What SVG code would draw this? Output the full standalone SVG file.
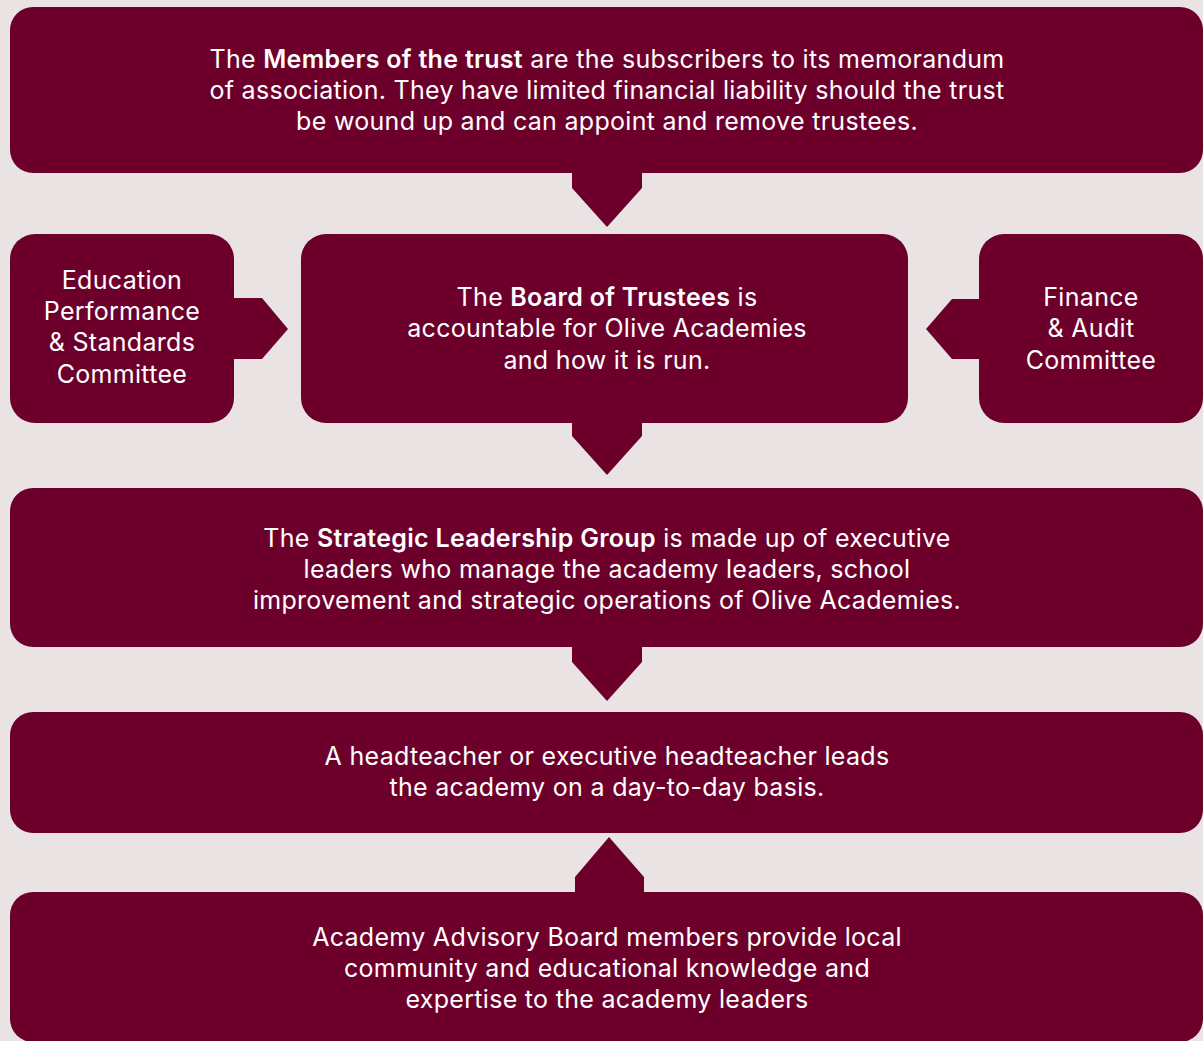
<svg xmlns="http://www.w3.org/2000/svg" width="1203" height="1041" viewBox="0 0 1203 1041">
<style>
.box{fill:#6d002b}
.arr{fill:#6d002b}
text{font-family:Inter,"Open Sans","Liberation Sans",Arial,sans-serif;font-size:25px;letter-spacing:0.3px;fill:#ffffff;text-anchor:middle}
.b{font-weight:600}
</style>
<rect x="0" y="0" width="1203" height="1041" fill="#e9e3e4"/>
<g id="connectors">
<polygon class="arr" points="572,170 642,170 642,188 607,227 572,188"/>
<polygon class="arr" points="230,298 262,298 288,329 262,359 230,359"/>
<polygon class="arr" points="983,299 952,299 926,329 952,359 983,359"/>
<polygon class="arr" points="572,420 642,420 642,436 607,475 572,436"/>
<polygon class="arr" points="572,644 642,644 642,662 607,701 572,662"/>
<polygon class="arr" points="609,837 644,877 644,896 575,896 575,877"/>
</g>
<g id="members">
<rect class="box" x="10" y="7" width="1193" height="166" rx="23"/>
<text x="607" y="68"><tspan>The </tspan><tspan class="b">Members of the trust</tspan><tspan> are the subscribers to its memorandum</tspan></text>
<text x="607" y="99">of association. They have limited financial liability should the trust</text>
<text x="607" y="130">be wound up and can appoint and remove trustees.</text>
</g>
<g id="education">
<rect class="box" x="10" y="234" width="224" height="189" rx="25"/>
<text x="122" y="289">Education</text>
<text x="122" y="320">Performance</text>
<text x="122" y="351">&amp; Standards</text>
<text x="122" y="383">Committee</text>
</g>
<g id="board">
<rect class="box" x="301" y="234" width="607" height="189" rx="25"/>
<text x="607" y="306"><tspan>The </tspan><tspan class="b">Board of Trustees</tspan><tspan> is</tspan></text>
<text x="607" y="337">accountable for Olive Academies</text>
<text x="607" y="369">and how it is run.</text>
</g>
<g id="finance">
<rect class="box" x="979" y="234" width="224" height="189" rx="25"/>
<text x="1091" y="306">Finance</text>
<text x="1091" y="337">&amp; Audit</text>
<text x="1091" y="369">Committee</text>
</g>
<g id="strategic">
<rect class="box" x="10" y="488" width="1193" height="159" rx="23"/>
<text x="607" y="547"><tspan>The </tspan><tspan class="b">Strategic Leadership Group</tspan><tspan> is made up of executive</tspan></text>
<text x="607" y="578">leaders who manage the academy leaders, school</text>
<text x="607" y="609">improvement and strategic operations of Olive Academies.</text>
</g>
<g id="headteacher">
<rect class="box" x="10" y="712" width="1193" height="121" rx="23"/>
<text x="607" y="765">A headteacher or executive headteacher leads</text>
<text x="607" y="796">the academy on a day-to-day basis.</text>
</g>
<g id="advisory">
<rect class="box" x="10" y="892" width="1193" height="150" rx="23"/>
<text x="607" y="946">Academy Advisory Board members provide local</text>
<text x="607" y="977">community and educational knowledge and</text>
<text x="607" y="1008">expertise to the academy leaders</text>
</g>
</svg>
